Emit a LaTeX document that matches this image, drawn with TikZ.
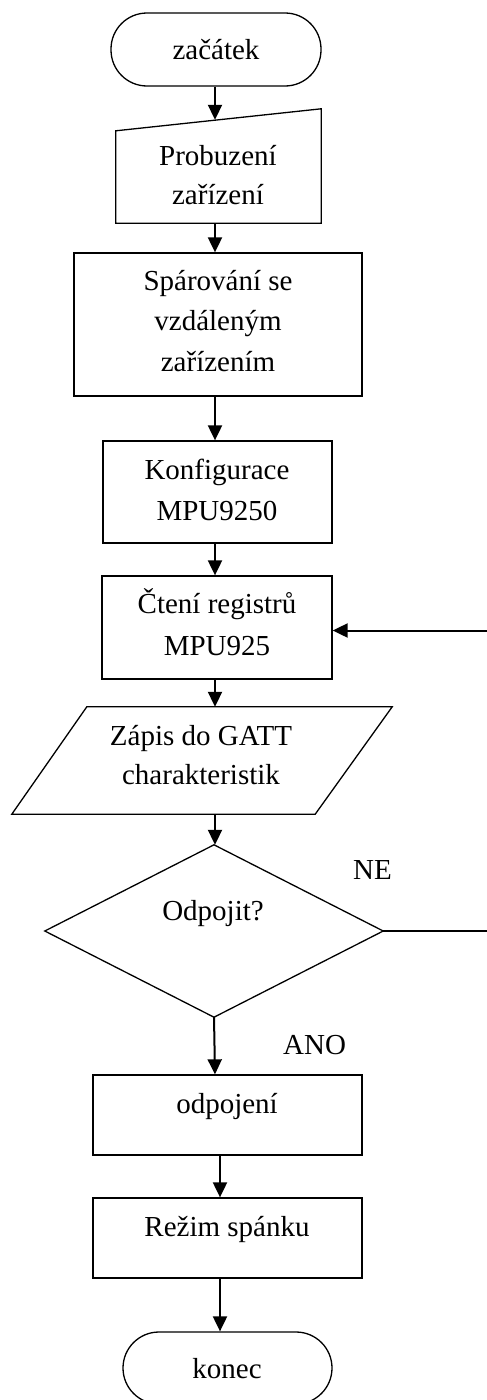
\documentclass[tikz,border=0pt]{standalone}
\usepackage{fontspec}
\setmainfont{Liberation Serif}
\usetikzlibrary{arrows.meta,calc}
\begin{document}
\begin{tikzpicture}[x=1pt,y=-1pt,
  outline/.style={draw, line width=1.3pt, line join=miter},
  box/.style={rectangle, draw, line width=1.3pt, inner sep=0pt},
  ghost/.style={rectangle, inner sep=0pt},
  term/.style={rectangle, draw, line width=1.3pt, inner sep=0pt, rounded corners=36pt},
  arr/.style={line width=2pt, -{Triangle[length=15pt,width=14pt]}},
  txt/.style={anchor=base, inner sep=0pt, font=\fontsize{29}{40}\selectfont},
  side/.style={anchor=base west, inner sep=0pt, font=\fontsize{29}{40}\selectfont},
]
\useasboundingbox (0,0) rectangle (487,1400);

% shapes
\node[term, minimum width=210pt, minimum height=73pt] (start) at (216,49.5) {};
\node[ghost, minimum width=205pt, minimum height=114pt] (wake) at (218.5,166) {};
\draw[outline] (wake.north east) -- (wake.south east) -- (wake.south west) -- ($(wake.north west)+(0,22)$) -- cycle;
\node[box, minimum width=288pt, minimum height=143pt] (pair) at (218,324.5) {};
\node[box, minimum width=229pt, minimum height=102pt] (konf) at (217.5,492) {};
\node[box, minimum width=230pt, minimum height=103pt] (cteni) at (217,627.5) {};
\node[ghost, minimum width=380pt, minimum height=107pt] (gatt) at (202,760.5) {};
\draw[outline] ($(gatt.north west)+(75,0)$) -- (gatt.north east) -- ($(gatt.south east)+(-77,0)$) -- (gatt.south west) -- cycle;
\node[ghost, minimum width=338pt, minimum height=172pt] (dec) at (214,931) {};
\draw[outline] (dec.north) -- (dec.east) -- (dec.south) -- (dec.west) -- cycle;
\node[box, minimum width=269pt, minimum height=80pt] (off) at (227.5,1115) {};
\node[box, minimum width=269pt, minimum height=80pt] (rez) at (227.5,1238) {};
\node[term, minimum width=209pt, minimum height=72pt] (konec) at (227.5,1368) {};

% texts
\node[txt] (t0) at (216,59) {začátek};
\node[txt] (t1a) at (218,165) {Probuzení};
\node[txt] (t1b) at (218,204) {zařízení};
\node[txt] (t2a) at (218,290) {Spárování se};
\node[txt] (t2b) at (218,330) {vzdáleným};
\node[txt] (t2c) at (218,371) {zařízením};
\node[txt] (t3a) at (217,479) {Konfigurace};
\node[txt] (t3b) at (217,520) {MPU9250};
\node[txt] (t4a) at (217,613) {Čtení registrů};
\node[txt] (t4b) at (217,655) {MPU925};
\node[txt] (t5a) at (201,745) {Zápis do GATT};
\node[txt] (t5b) at (201,784) {charakteristik};
\node[txt] (t6) at (213,920) {Odpojit?};
\node[side] (ne) at (353,879) {NE};
\node[side] (ano) at (283,1054) {ANO};
\node[txt] (t7) at (227,1113) {odpojení};
\node[txt] (t8) at (227,1236) {Režim spánku};
\node[txt] (t9) at (227,1378) {konec};

% connectors
\coordinate (ax) at (215,0);
\coordinate (bx) at (220,0);
\coordinate (lp) at (510,0);
\draw[arr] (start.south -| ax) -- ($(wake.north -| ax)+(0,11)$);
\draw[arr] (wake.south -| ax) -- (pair.north -| ax);
\draw[arr] (pair.south -| ax) -- (konf.north -| ax);
\draw[arr] (konf.south -| ax) -- (cteni.north -| ax);
\draw[arr] (cteni.south -| ax) -- (gatt.north -| ax);
\draw[arr] (gatt.south -| ax) -- (dec.north -| ax);
\draw[arr] (dec.south) -- (off.north -| ax);
\draw[arr] (off.south -| bx) -- (rez.north -| bx);
\draw[arr] (rez.south -| bx) -- (konec.north -| bx);
\coordinate (back) at ($(cteni.east)+(0,3)$);
\draw[line width=1.3pt] (dec.east) -- (dec.east -| lp) -- (back -| lp);
\draw[arr] (back -| lp) -- (back);
\end{tikzpicture}
\end{document}
